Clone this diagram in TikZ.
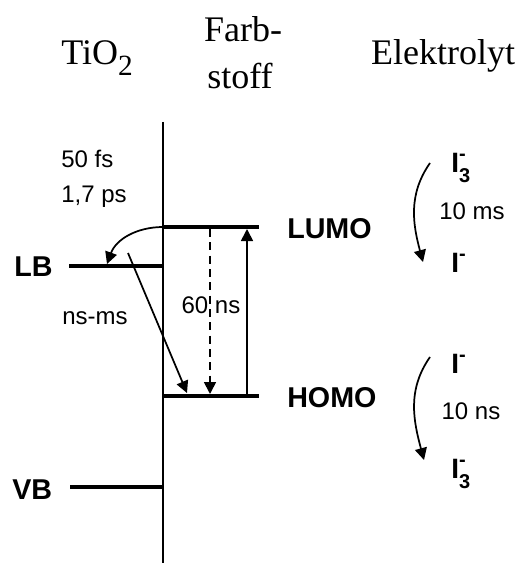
\documentclass[tikz,border=0pt]{standalone}
\usepackage{fontspec}
\setmainfont{Liberation Serif}
\newfontfamily\lbl{Liberation Sans}
\usetikzlibrary{arrows.meta}
\tikzset{
  hdr/.style={font=\fontsize{27}{33}\selectfont, inner sep=0pt, anchor=base},
  lvltxt/.style={font=\lbl\bfseries\fontsize{21.5}{26}\selectfont, inner sep=0pt, anchor=west},
  tm/.style={font=\lbl\fontsize{18}{21}\selectfont, inner sep=0pt},
  ion/.style={font=\lbl\bfseries\fontsize{21}{24}\selectfont, inner sep=0pt, anchor=base west},
  level/.style={line width=3pt},
  tip/.style={-{Triangle[length=9pt,width=9pt]}, line width=1.3pt},
}
\newcommand{\ionsub}[2]{I\rlap{\raisebox{-0.36em}{\fontsize{15}{15}\selectfont #1}}\raisebox{0.42em}{\fontsize{15}{15}\selectfont #2}}
\begin{document}
\begin{tikzpicture}[x=0.75pt,y=-0.75pt]
\useasboundingbox (0,0) rectangle (520,563);
% headers
\node[hdr] (tio) at (97,65) {TiO\raisebox{-0.28em}{\fontsize{22}{22}\selectfont 2}};
\node[hdr] (farb) at (243,42) {Farb-};
\node[hdr] (stoff) at (240,89) {stoff};
\node[hdr] (elyt) at (443,65) {Elektrolyt};
% interface
\draw[line width=1.4pt] (163,122) -- (163,563);
% levels
\coordinate (lbL) at (69,266);   \coordinate (lbR) at (163,266);
\coordinate (vbL) at (70,487);   \coordinate (vbR) at (163,487);
\coordinate (lumoL) at (163,227); \coordinate (lumoR) at (259,227);
\coordinate (homoL) at (163,396); \coordinate (homoR) at (259,396);
\draw[level] (lbL) -- (lbR);
\draw[level] (vbL) -- (vbR);
\draw[level] (lumoL) -- (lumoR);
\draw[level] (homoL) -- (homoR);
\node[lvltxt] (lb) at (14,267) {LB};
\node[lvltxt] (vb) at (12,490) {VB};
\node[lvltxt] (lumo) at (287,229) {LUMO};
\node[lvltxt] (homo) at (287,398) {HOMO};
% transfer
\draw[tip] (lumoL) to[out=180,in=70] (107,264);
\coordinate (recS) at (128,253);
\coordinate (recE) at (187,393);
\draw[tip] (recS) -- (recE);
\draw[tip, dash pattern=on 6pt off 4pt] (210,229) -- (210,394);
\draw[tip] (247,394) -- (247,229);
\node[tm, align=left, anchor=north west] (inj) at (61,150) {50 fs\\[5pt]1,7 ps};
\node[tm] (rec) at (95,318) {ns-ms};
\node[tm] (relax) at (211,305) {60 ns};
% elektrolyt
\node[ion] (ithree) at (451,172) {\ionsub{3}{-}};
\node[tm] (tred) at (472,211) {10 ms};
\node[ion] (iminus) at (451,272) {\ionsub{}{-}};
\draw[tip] (430,163) to[out=235,in=105] (423,262);
\node[ion] (iminusb) at (451,373) {\ionsub{}{-}};
\node[tm] (treg) at (471,411) {10 ns};
\node[ion] (ithreeb) at (451,478) {\ionsub{3}{-}};
\draw[tip] (430,357) to[out=235,in=105] (424,460);
\end{tikzpicture}
\end{document}
